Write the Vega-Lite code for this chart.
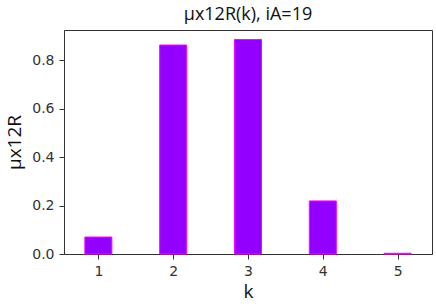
{
  "$schema": "https://vega.github.io/schema/vega-lite/v6.json",
  "width": 368,
  "height": 224,
  "autosize": {"type": "none"},
  "padding": {"left": 64, "top": 30, "right": 4, "bottom": 54},
  "background": "white",
  "title": {"text": "µx12R(k), iA=19", "font": "Open Sans", "fontSize": 18, "fontWeight": "normal", "color": "#111", "offset": 6},
  "data": {"values": [
    {"k": 1, "v": 0.07},
    {"k": 2, "v": 0.862},
    {"k": 3, "v": 0.885},
    {"k": 4, "v": 0.219},
    {"k": 5, "v": 0.003}
  ]},
  "mark": {"type": "bar", "size": 27, "color": "#9400ff", "stroke": "#ff00ff", "strokeWidth": 1},
  "encoding": {
    "x": {"field": "k", "type": "quantitative", "scale": {"domain": [0.6075, 5.3925], "nice": false, "zero": false},
      "axis": {"values": [1, 2, 3, 4, 5], "format": "d", "title": "k", "grid": false, "titleFont": "Open Sans", "titleFontSize": 19, "titleFontWeight": "normal", "titleColor": "#111", "titlePadding": 4,
        "labelFont": "DejaVu Sans", "labelFontSize": 14, "labelColor": "#333", "tickColor": "#333", "tickSize": 5, "domainColor": "#333", "labelPadding": 5}},
    "y": {"field": "v", "type": "quantitative", "scale": {"domain": [0, 0.924], "nice": false},
      "axis": {"values": [0, 0.2, 0.4, 0.6, 0.8], "format": ".1f", "title": "µx12R", "grid": false, "titleFont": "Open Sans", "titleFontSize": 19, "titleFontWeight": "normal", "titleColor": "#111", "titlePadding": 7,
        "labelFont": "DejaVu Sans", "labelFontSize": 14, "labelColor": "#333", "tickColor": "#333", "tickSize": 5, "domainColor": "#333", "labelPadding": 5}}
  },
  "config": {"view": {"stroke": "#333", "strokeWidth": 1}, "axis": {"domainWidth": 1}}
}
